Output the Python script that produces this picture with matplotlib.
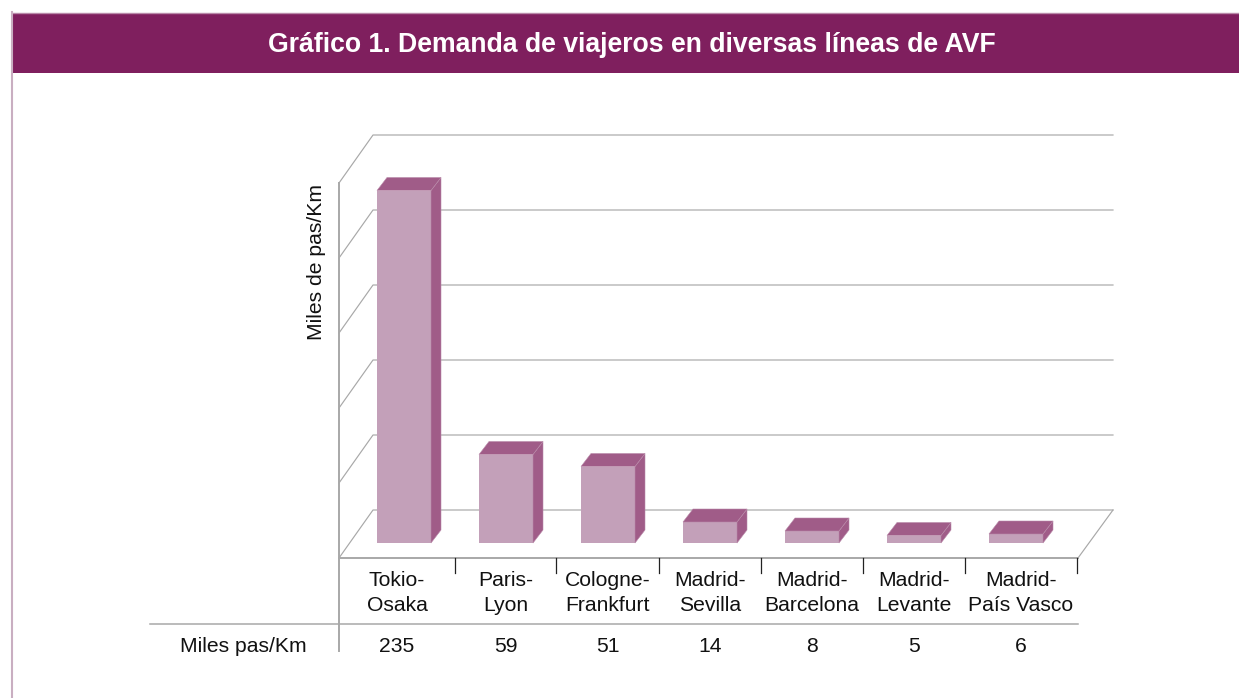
import matplotlib
matplotlib.use("Agg")
import matplotlib.pyplot as plt
from matplotlib.patches import Polygon, Rectangle

plt.rcParams['font.family'] = ['Liberation Sans', 'DejaVu Sans']

title = "Gráfico 1. Demanda de viajeros en diversas líneas de AVF"
categories = ["Tokio-\nOsaka", "Paris-\nLyon", "Cologne-\nFrankfurt", "Madrid-\nSevilla",
              "Madrid-\nBarcelona", "Madrid-\nLevante", "Madrid-\nPaís Vasco"]
values = [235, 59, 51, 14, 8, 5, 6]
row_label = "Miles pas/Km"
y_label = "Miles de pas/Km"
grid_values = [0, 50, 100, 150, 200, 250]

W, H = 1239, 698
PURPLE = '#7f1f5e'
FRONT = '#c3a0b9'
DARK = '#a05c88'
GRID = '#a8a8a8'

fig = plt.figure(figsize=(W / 100, H / 100), dpi=100, facecolor='white')

# background axes in pixels, for the header, walls and table lines
bg = fig.add_axes([0, 0, 1, 1])
bg.set_xlim(0, W)
bg.set_ylim(H, 0)
bg.axis('off')

bg.add_patch(Rectangle((12, 13), W - 12, 60, fc=PURPLE, ec='none'))
bg.plot([12, W], [12.5, 12.5], color='#b98aa9', lw=1)
bg.plot([11.5, 11.5], [12, H], color='#c9aec1', lw=1.5)
bg.text(632, 45, title, color='white', fontsize=19.2, fontweight='bold', ha='center', va='center')

# back wall + floor
px_per_unit = 1.5
for v in grid_values:
    y_front = 558 - v * px_per_unit
    y_back = 510 - v * px_per_unit
    bg.plot([339, 373, 1113], [y_front, y_back, y_back], color=GRID, lw=0.85)
bg.plot([1113, 1078], [510, 558], color=GRID, lw=0.85)
bg.plot([339, 1078], [558, 558], color=GRID, lw=1.4)
bg.plot([339, 339], [183, 651], color=GRID, lw=1.4)
bg.plot([150, 1078], [623.5, 623.5], color=GRID, lw=1.1)

# tick marks and table text
edges = [339, 455, 556, 659, 761, 863, 965, 1077]
for e in edges[1:]:
    bg.plot([e, e], [558, 573], color='#222222', lw=0.9)
for i, (c, v) in enumerate(zip(categories, values)):
    xc = (edges[i] + edges[i + 1]) / 2
    bg.text(xc, 593, c, ha='center', va='center', fontsize=15.2, color='#111111', linespacing=1.42)
    bg.text(xc, 646, str(v), ha='center', va='center', fontsize=15.2, color='#111111')
bg.text(243.5, 646, row_label, ha='center', va='center', fontsize=15.2, color='#111111')
bg.text(317, 262, y_label, rotation=90, ha='center', va='center', fontsize=15.2, color='#111111')

# data axes: x is the category index, y the value
ax = fig.add_axes([353 / W, 1 - 543 / H, 714 / W, 450 / H])
ax.set_xlim(-0.5, 6.5)
ax.set_ylim(0, 300)
ax.axis('off')

bar_w = 54 / 102
dx = 10 / 102
dy = 13 / px_per_unit
xs = list(range(len(values)))
ax.bar(xs, values, width=bar_w, color=FRONT, edgecolor='none', zorder=3)
for x, v in zip(xs, values):
    l, r = x - bar_w / 2, x + bar_w / 2
    ax.add_patch(Polygon([(r, 0), (r + dx, dy), (r + dx, v + dy), (r, v)], fc=DARK, ec='#b98aa9', lw=0.4,
                         clip_on=False, zorder=3))
    ax.add_patch(Polygon([(l, v), (l + dx, v + dy), (r + dx, v + dy), (r, v)], fc=DARK, ec='#b98aa9', lw=0.4,
                         clip_on=False, zorder=3))

fig.savefig('out.png', dpi=100)
